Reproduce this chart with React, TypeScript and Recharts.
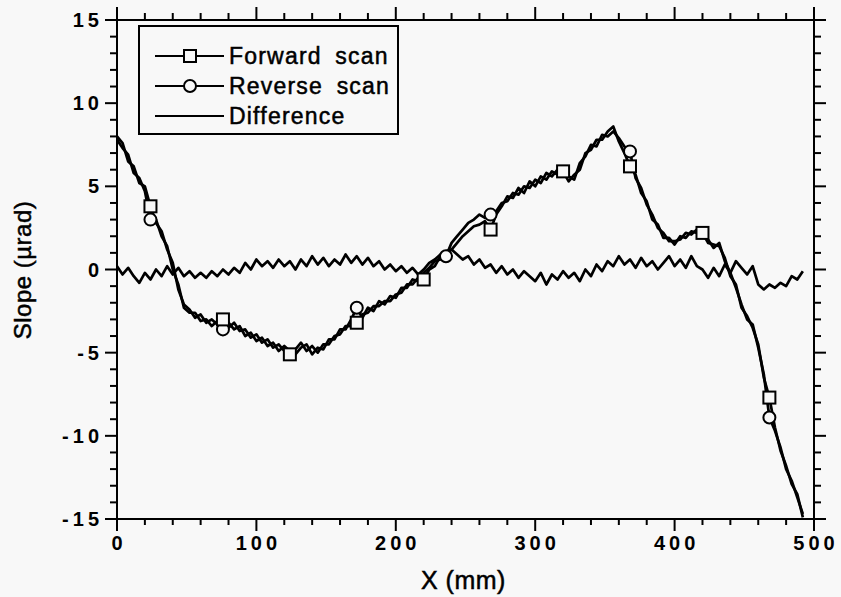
import React from "react";
import { LineChart, Line, XAxis, YAxis } from "recharts";

// sample positions along the mirror (mm)
const xs = [
  0, 4, 8, 12, 16, 20, 24, 28, 32, 36, 40, 44, 48, 52, 56, 60, 64, 68, 72, 76,
  80, 84, 88, 92, 96, 100, 104, 108, 112, 116, 120, 124, 128, 132, 136, 140, 144, 148, 152, 156,
  160, 164, 168, 172, 176, 180, 184, 188, 192, 196, 200, 204, 208, 212, 216, 220, 224, 228, 232, 236,
  240, 244, 248, 252, 256, 260, 264, 268, 272, 276, 280, 284, 288, 292, 296, 300, 304, 308, 312, 316,
  320, 324, 328, 332, 336, 340, 344, 348, 352, 356, 360, 364, 368, 372, 376, 380, 384, 388, 392, 396,
  400, 404, 408, 412, 416, 420, 424, 428, 432, 436, 440, 444, 448, 452, 456, 460, 464, 468, 472, 476,
  480, 484, 488, 492,
];

const forward = [
  8.0, 7.6, 6.5, 6.2, 5.2, 5.0, 3.8, 2.8, 2.3, 1.2,
  0.4, -1.2, -2.1, -2.4, -2.9, -2.7, -3.2, -3.0, -3.3, -3.0,
  -3.5, -3.2, -3.7, -3.6, -4.1, -3.9, -4.4, -4.2, -4.7, -4.5,
  -4.9, -5.1, -4.8, -4.4, -4.9, -4.6, -5.0, -4.5, -4.5, -4.0,
  -3.9, -3.4, -3.4, -3.2, -2.7, -2.6, -2.2, -2.2, -1.9, -1.9,
  -1.5, -1.4, -0.9, -0.9, -0.5, -0.6, 0.0, 0.2, 0.8, 0.9,
  1.2, 1.6, 2.0, 2.3, 2.6, 2.7, 2.9, 2.4, 3.3, 3.8,
  4.4, 4.3, 4.9, 4.6, 5.3, 5.0, 5.6, 5.4, 5.9, 5.7,
  5.9, 5.3, 5.7, 6.0, 7.0, 7.2, 7.8, 7.8, 8.3, 8.6,
  7.7, 7.0, 6.2, 5.7, 4.6, 4.1, 3.0, 2.7, 1.9, 1.9,
  1.5, 2.0, 1.9, 2.3, 2.2, 2.2, 1.6, 1.5, 1.4, 0.7,
  -0.4, -0.9, -2.3, -2.8, -3.5, -4.5, -6.5, -7.7, -9.5, -10.9,
  -11.8, -12.9, -13.5, -14.9,
];

const reverse = [
  7.8, 7.3, 6.9, 5.8, 5.5, 4.7, 3.0, 3.0, 2.0, 1.4,
  0.0, -0.9, -2.3, -2.6, -2.6, -3.1, -3.0, -3.4, -3.1, -3.6,
  -3.2, -3.6, -3.4, -4.0, -3.8, -4.3, -4.1, -4.6, -4.4, -4.9,
  -4.6, -4.9, -5.1, -4.7, -4.5, -5.1, -4.7, -4.8, -4.2, -4.2,
  -3.6, -3.6, -3.0, -2.3, -2.9, -2.3, -2.5, -1.9, -2.1, -1.6,
  -1.7, -1.1, -1.1, -0.6, -0.7, -0.2, 0.1, 0.5, 0.6, 0.8,
  1.6, 2.0, 2.4, 2.8, 3.0, 3.3, 3.1, 3.3, 3.5, 4.0,
  4.1, 4.6, 4.5, 5.0, 4.9, 5.4, 5.2, 5.8, 5.6, 6.0,
  5.7, 5.6, 5.4, 6.4, 6.8, 7.5, 7.4, 8.1, 8.0, 8.3,
  7.9, 7.4, 7.1, 5.5, 4.9, 3.9, 3.3, 2.5, 2.2, 1.7,
  1.7, 1.8, 2.2, 2.1, 2.4, 2.0, 1.8, 1.3, 1.6, 0.5,
  -0.2, -1.1, -2.1, -3.0, -3.3, -4.7, -6.3, -8.9, -9.7, -10.7,
  -12.0, -12.7, -13.7, -14.7,
];

const difference = [
  0.2, -0.3, 0.1, -0.4, -0.8, -0.2, -0.6, 0.0, -0.4, 0.2,
  -0.3, 0.1, -0.4, -0.1, -0.5, -0.2, -0.5, -0.1, -0.4, 0.0,
  -0.3, 0.1, -0.2, 0.4, 0.0, 0.6, 0.2, 0.5, 0.1, 0.6,
  0.2, 0.5, 0.0, 0.6, 0.2, 0.8, 0.3, 0.7, 0.2, 0.6,
  0.3, 0.9, 0.4, 0.8, 0.3, 0.7, 0.2, 0.5, 0.0, 0.3,
  -0.1, 0.2, -0.2, 0.1, -0.3, 0.0, 0.4, 0.6, 0.9, 1.1,
  1.2, 0.9, 0.6, 0.8, 0.3, 0.6, 0.1, 0.3, -0.2, 0.2,
  -0.3, 0.0, -0.5, -0.1, -0.4, -0.7, -0.2, -0.9, -0.3, -0.6,
  -0.1, -0.5, -0.2, -0.7, 0.0, -0.4, 0.3, -0.1, 0.5, 0.2,
  0.8, 0.3, 0.6, 0.1, 0.7, 0.2, 0.5, 0.0, 0.4, 0.8,
  0.2, 0.6, 0.1, 0.8, 0.2, 0.0, -0.5, 0.1, -0.4, 0.3,
  -0.2, 0.5, 0.1, -0.3, 0.2, -0.9, -1.2, -0.9, -1.1, -0.8,
  -1.0, -0.4, -0.6, -0.1,
];

// where the plot symbols sit
const forwardMarks = [24, 76, 124, 172, 220, 268, 320, 368, 420, 468];
const reverseMarks = [24, 76, 172, 236, 268, 368, 468];

const xTicks = [
  0, 20, 40, 60, 80, 100, 120, 140, 160, 180, 200, 220, 240, 260, 280, 300, 320, 340, 360, 380,
  400, 420, 440, 460, 480, 500,
];
const yTicks = [
  -15, -14, -13, -12, -11, -10, -9, -8, -7, -6, -5, -4, -3, -2, -1, 0, 1, 2, 3, 4, 5, 6, 7, 8, 9,
  10, 11, 12, 13, 14, 15,
];

const data = xs.map((x, i) => ({
  x,
  fwd: forward[i],
  rev: reverse[i],
  diff: difference[i],
  fm: forwardMarks.includes(x),
  rm: reverseMarks.includes(x),
}));

const BG = "#f8f8f8";
const FONT = "'Liberation Sans', Arial, Helvetica, sans-serif";
const LW = 2.7;

function BottomTick({ x, y, payload }: any) {
  const major = payload.value % 100 === 0;
  return (
    <g>
      <line x1={x} x2={x} y1={y} y2={y + (major ? 12 : 6)} stroke="#000" strokeWidth={2} />
      {major && (
        <text
          x={x + 2}
          y={y + 31}
          textAnchor="middle"
          fontSize={20}
          fontWeight="bold"
          fontFamily={FONT}
          style={{ letterSpacing: 4 }}
        >
          {payload.value}
        </text>
      )}
    </g>
  );
}

function TopTick({ x, y, payload }: any) {
  const major = payload.value % 100 === 0;
  return <line x1={x} x2={x} y1={y} y2={y - (major ? 13 : 7)} stroke="#000" strokeWidth={2} />;
}

function LeftTick({ x, y, payload }: any) {
  const major = payload.value % 5 === 0;
  return (
    <g>
      <line x1={x} x2={x - (major ? 12 : 7)} y1={y} y2={y} stroke="#000" strokeWidth={2} />
      {major && (
        <text
          x={x - 14}
          y={y + 7}
          textAnchor="end"
          fontSize={20}
          fontWeight="bold"
          fontFamily={FONT}
          style={{ letterSpacing: 4 }}
        >
          {payload.value}
        </text>
      )}
    </g>
  );
}

function RightTick({ x, y, payload }: any) {
  const major = payload.value % 5 === 0;
  return <line x1={x} x2={x + (major ? 12 : 7)} y1={y} y2={y} stroke="#000" strokeWidth={2} />;
}

function SquareDot(props: any) {
  const { cx, cy, payload, index } = props;
  if (!payload.fm) return <g key={`f${index}`} />;
  return (
    <rect key={`f${index}`} x={cx - 6} y={cy - 6} width={12} height={12} fill={BG} stroke="#000" strokeWidth={2} />
  );
}

function CircleDot(props: any) {
  const { cx, cy, payload, index } = props;
  if (!payload.rm) return <g key={`r${index}`} />;
  return <circle key={`r${index}`} cx={cx} cy={cy} r={6} fill={BG} stroke="#000" strokeWidth={2} />;
}

const textHeavy = { WebkitTextStroke: "0.5px #000" } as React.CSSProperties;

function LegendRow({ label, marker, top }: { label: string; marker: "square" | "circle" | "none"; top: number }) {
  return (
    <div style={{ position: "absolute", left: 13, top, height: 28, display: "flex", alignItems: "center" }}>
      <svg width={72} height={20}>
        <line x1={2} x2={71} y1={10} y2={10} stroke="#000" strokeWidth={2} />
        {marker === "square" && <rect x={31} y={4} width={12} height={12} fill={BG} stroke="#000" strokeWidth={2} />}
        {marker === "circle" && <circle cx={37} cy={10} r={6} fill={BG} stroke="#000" strokeWidth={2} />}
      </svg>
      <span
        style={{
          marginLeft: 4,
          fontSize: 23,
          letterSpacing: 1.2,
          wordSpacing: 6,
          fontFamily: FONT,
          color: "#000",
          ...textHeavy,
        }}
      >
        {label}
      </span>
    </div>
  );
}

export default function App() {
  return (
    <div style={{ position: "fixed", left: 0, top: 0, width: 841, height: 597, background: BG, overflow: "hidden" }}>
      <LineChart
        width={841}
        height={597}
        data={data}
        margin={{ top: 19, right: 26, bottom: 0, left: 0 }}
      >
        <XAxis
          dataKey="x"
          type="number"
          domain={[0, 500]}
          ticks={xTicks}
          interval={0}
          height={78}
          tickSize={0}
          tickMargin={0}
          tickLine={false}
          tick={<BottomTick />}
          axisLine={{ stroke: "#000", strokeWidth: 2 }}
        />
        <XAxis
          xAxisId="top"
          orientation="top"
          dataKey="x"
          type="number"
          domain={[0, 500]}
          allowDataOverflow
          ticks={xTicks}
          interval={0}
          height={1}
          tickSize={0}
          tickMargin={0}
          tickLine={false}
          tick={<TopTick />}
          axisLine={{ stroke: "#000", strokeWidth: 2 }}
        />
        <YAxis
          type="number"
          domain={[-15, 15]}
          ticks={yTicks}
          interval={0}
          width={117}
          tickSize={0}
          tickMargin={0}
          tickLine={false}
          tick={<LeftTick />}
          axisLine={{ stroke: "#000", strokeWidth: 2 }}
        />
        <YAxis
          yAxisId="right"
          orientation="right"
          type="number"
          domain={[-15, 15]}
          allowDataOverflow
          ticks={yTicks}
          interval={0}
          width={1}
          tickSize={0}
          tickMargin={0}
          tickLine={false}
          tick={<RightTick />}
          axisLine={{ stroke: "#000", strokeWidth: 2 }}
        />
        {/* invisible series so the top and right frame axes get drawn */}
        <Line
          xAxisId="top"
          yAxisId="right"
          dataKey="diff"
          stroke="none"
          strokeWidth={0}
          dot={false}
          activeDot={false}
          legendType="none"
          isAnimationActive={false}
        />
        <Line
          dataKey="diff"
          type="linear"
          stroke="#000"
          strokeWidth={LW}
          strokeLinejoin="round"
          dot={false}
          isAnimationActive={false}
        />
        <Line
          dataKey="rev"
          type="linear"
          stroke="#000"
          strokeWidth={LW}
          strokeLinejoin="round"
          dot={CircleDot}
          activeDot={false}
          isAnimationActive={false}
        />
        <Line
          dataKey="fwd"
          type="linear"
          stroke="#000"
          strokeWidth={LW}
          strokeLinejoin="round"
          dot={SquareDot}
          activeDot={false}
          isAnimationActive={false}
        />
      </LineChart>

      <div
        style={{
          position: "absolute",
          left: 138,
          top: 25,
          width: 257,
          height: 106,
          border: "2px solid #000",
          background: BG,
        }}
      >
        <LegendRow label="Forward scan" marker="square" top={15} />
        <LegendRow label="Reverse scan" marker="circle" top={45} />
        <LegendRow label="Difference" marker="none" top={75} />
      </div>

      <div
        style={{
          position: "absolute",
          left: 23,
          top: 270,
          transform: "translate(-50%, -50%) rotate(-90deg)",
          whiteSpace: "nowrap",
          fontSize: 24,
          letterSpacing: 0.5,
          fontFamily: FONT,
          color: "#000",
          ...textHeavy,
        }}
      >
        Slope (µrad)
      </div>
      <div
        style={{
          position: "absolute",
          left: 421,
          top: 566,
          fontSize: 25,
          letterSpacing: 0.5,
          fontFamily: FONT,
          color: "#000",
          whiteSpace: "nowrap",
          ...textHeavy,
        }}
      >
        X (mm)
      </div>
    </div>
  );
}
